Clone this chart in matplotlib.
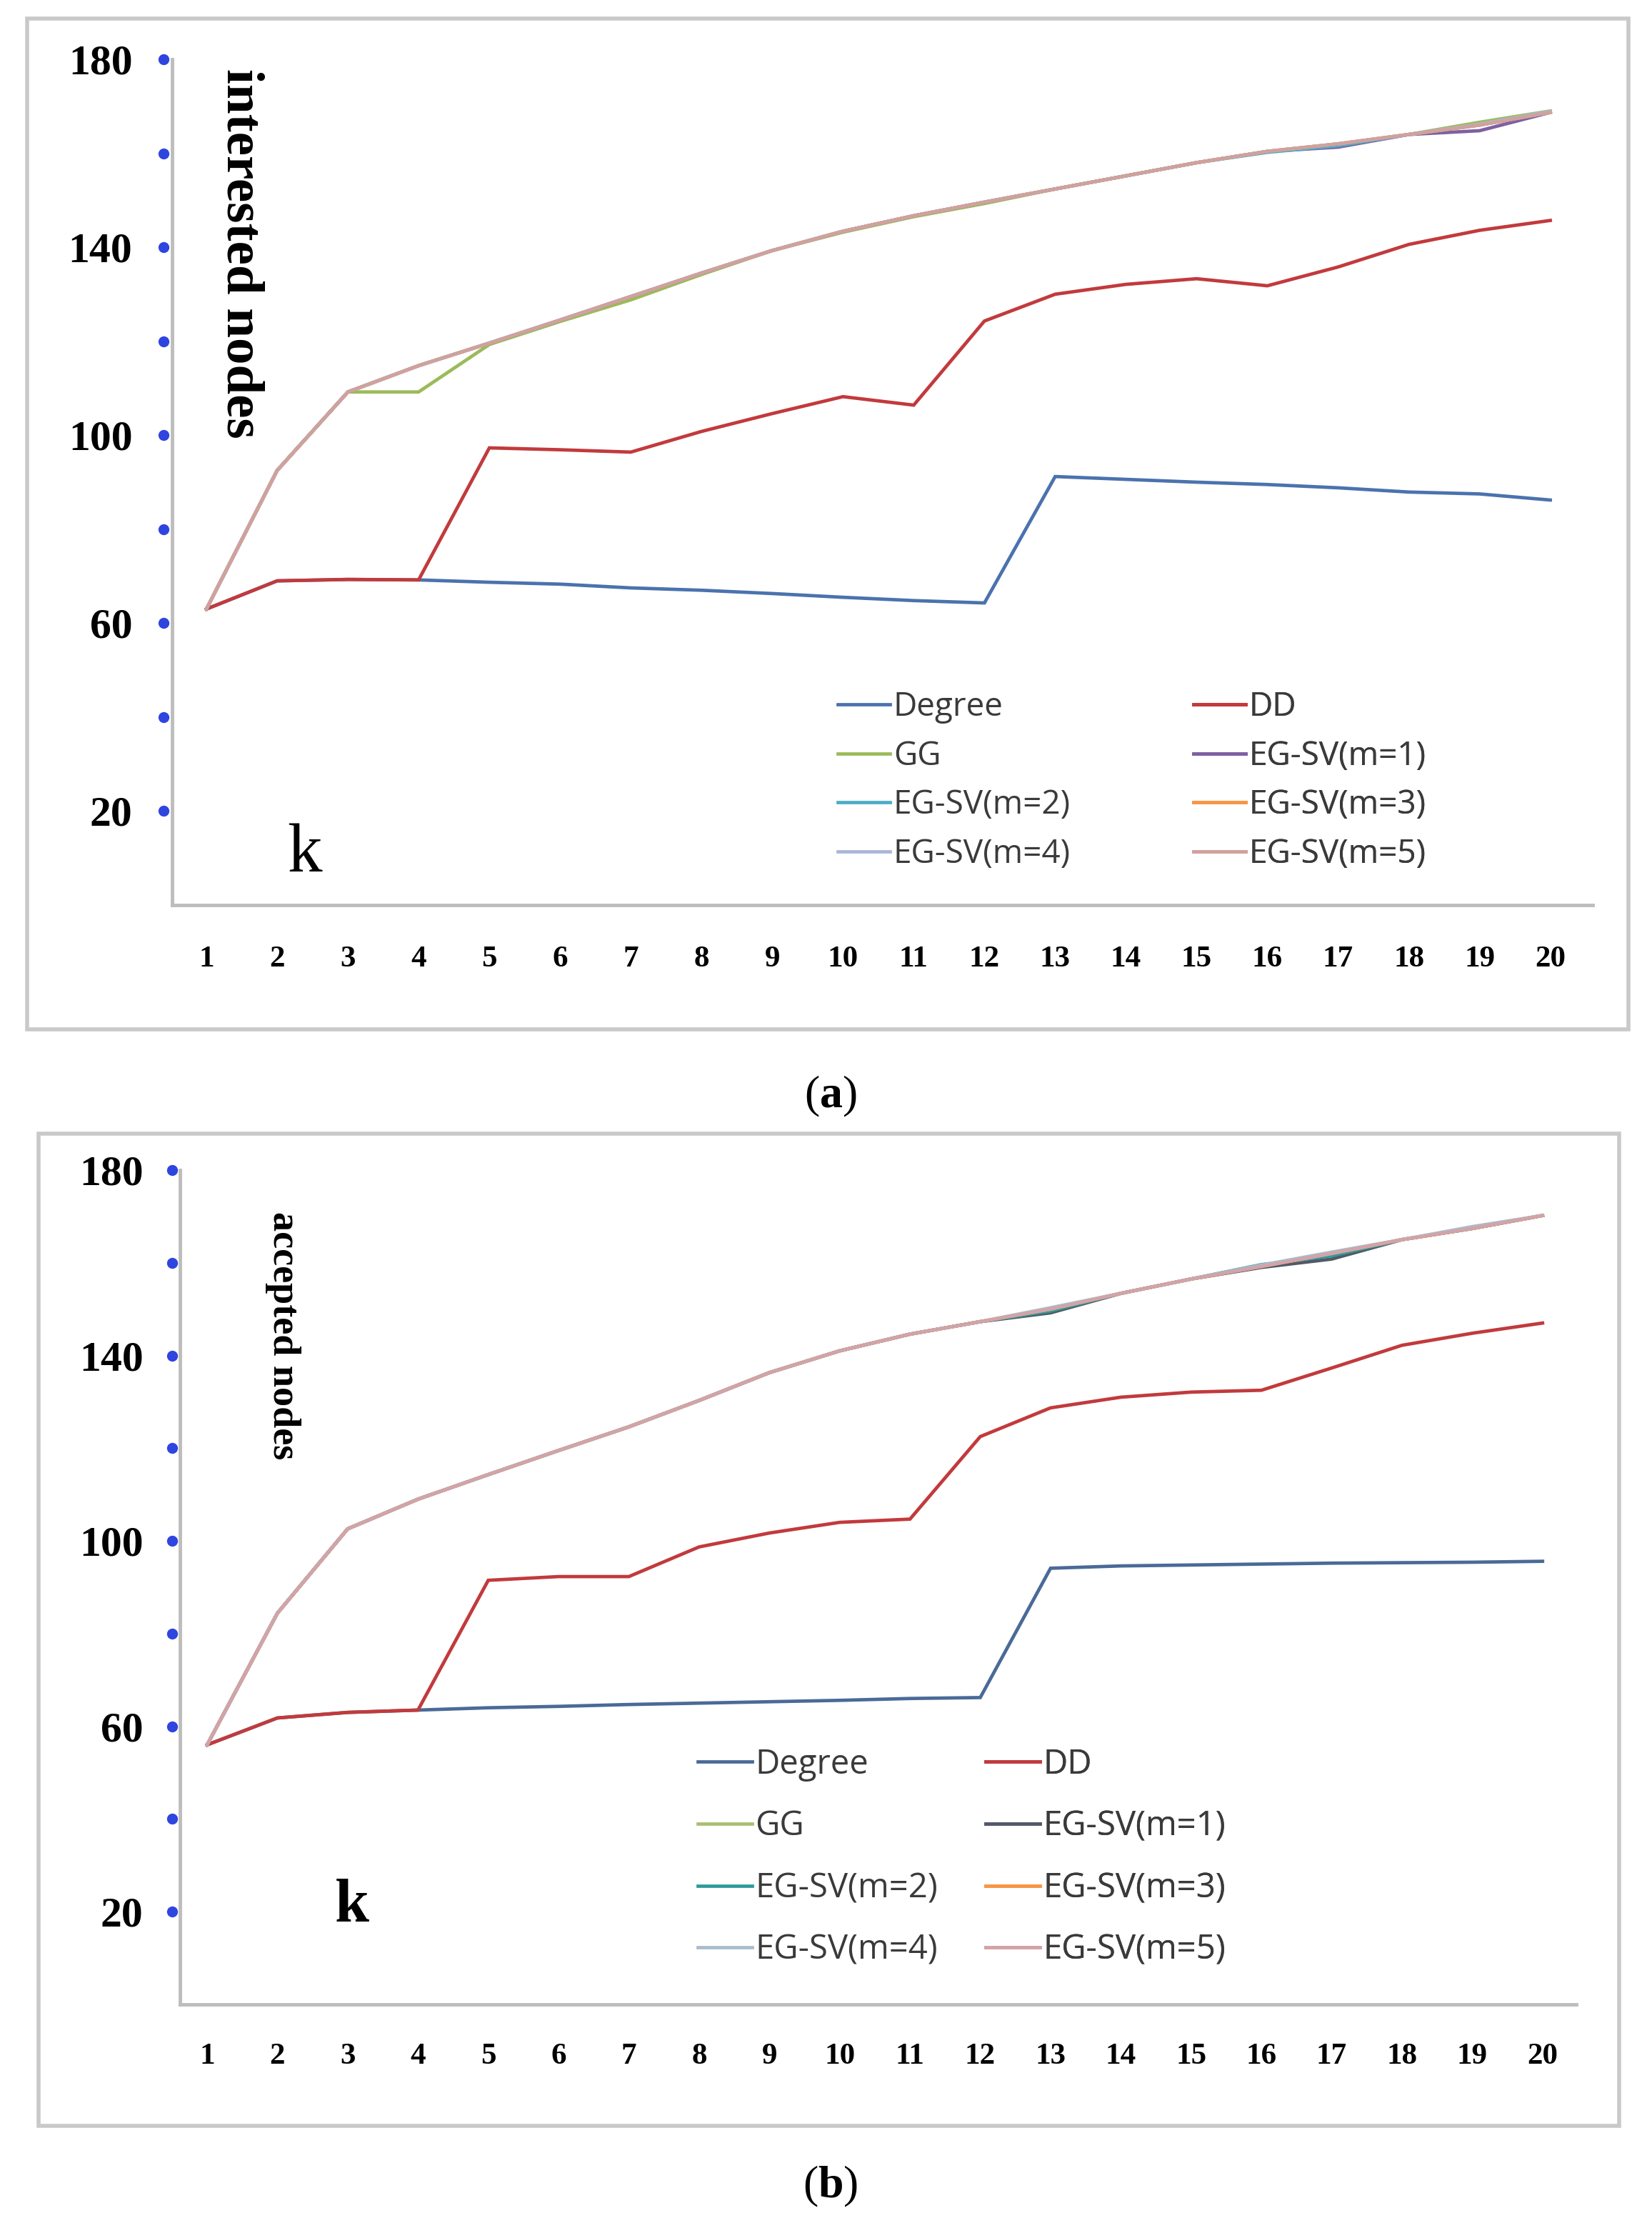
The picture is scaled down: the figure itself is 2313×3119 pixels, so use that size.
import numpy as np
import matplotlib
matplotlib.use('Agg')
import matplotlib.pyplot as plt
from matplotlib.patches import Rectangle
from matplotlib.font_manager import FontProperties
from matplotlib.transforms import blended_transform_factory

plt.rcParams['mathtext.fontset'] = 'custom'
plt.rcParams['mathtext.bf'] = 'Liberation Serif:bold'
plt.rcParams['mathtext.rm'] = 'Liberation Serif'

# ---- data ----
k = list(range(1, 21))
series_names = ['Degree', 'DD', 'GG', 'EG-SV(m=1)', 'EG-SV(m=2)',
                'EG-SV(m=3)', 'EG-SV(m=4)', 'EG-SV(m=5)']

# (a) interested nodes
degree_a = [63, 69, 69.3, 69.2, 68.7, 68.3, 67.5, 67, 66.3, 65.5,
            64.8, 64.3, 91.2, 90.6, 90, 89.5, 88.8, 87.9, 87.5, 86.2]
dd_a = [63, 69, 69.3, 69.2, 97.3, 96.9, 96.4, 100.8, 104.6, 108.2,
        106.4, 124.3, 130, 132.1, 133.3, 131.8, 135.8, 140.6, 143.6, 145.7]
gg_a = [63, 92.5, 109.2, 109.2, 119.3, 124.2, 128.8, 134.2, 139.3, 143.2,
        146.5, 149.3, 152.4, 155.2, 158, 160.4, 162, 164, 166.6, 169]
egsv1_a = [63, 92.5, 109.2, 114.8, 119.6, 124.5, 129.5, 134.5, 139.3, 143.4,
           146.7, 149.6, 152.4, 155.2, 158, 160.4, 161.3, 164, 164.8, 168.7]
egsv2_a = [63, 92.5, 109.2, 114.8, 119.6, 124.5, 129.5, 134.5, 139.3, 143.4,
           146.7, 149.6, 152.4, 155.2, 158, 160.2, 161.6, 164, 166, 168.7]
egsv3_a = [63, 92.5, 109.2, 114.8, 119.6, 124.5, 129.5, 134.5, 139.3, 143.4,
           146.7, 149.6, 152.4, 155.2, 158, 160.4, 162, 164, 166, 168.7]
egsv4_a = [63, 92.5, 109.2, 114.8, 119.6, 124.5, 129.5, 134.5, 139.3, 143.4,
           146.7, 149.6, 152.4, 155.2, 158, 160.4, 162, 164, 166.2, 168.9]
egsv5_a = [63, 92.5, 109.2, 114.8, 119.6, 124.5, 129.5, 134.5, 139.3, 143.4,
           146.7, 149.6, 152.4, 155.2, 158, 160.4, 162, 164, 166, 168.7]

# (b) accepted nodes
degree_b = [56, 61.8, 63, 63.5, 64, 64.3, 64.7, 65, 65.3, 65.6,
            66, 66.2, 94.1, 94.6, 94.8, 95, 95.2, 95.3, 95.4, 95.6]
dd_b = [56, 61.8, 63, 63.5, 91.5, 92.3, 92.3, 98.7, 101.7, 104,
        104.7, 122.5, 128.7, 131, 132.1, 132.5, 137.3, 142.2, 144.8, 147]
gg_b = [56, 84.4, 102.6, 109, 114.3, 119.5, 124.6, 130.3, 136.3, 141,
        144.6, 147.3, 150, 153.4, 156.5, 159.2, 162, 165, 167.4, 170.2]
egsv1_b = [56, 84.4, 102.6, 109, 114.3, 119.5, 124.6, 130.3, 136.3, 141,
           144.6, 147.3, 149.2, 153.4, 156.5, 159, 160.8, 165, 167.4, 170.2]
egsv2_b = [56, 84.4, 102.6, 109, 114.3, 119.5, 124.6, 130.3, 136.3, 141,
           144.6, 147.3, 149.6, 153.4, 156.5, 159.6, 161.5, 165, 167.4, 170.2]
egsv3_b = [56, 84.4, 102.6, 109, 114.3, 119.5, 124.6, 130.3, 136.3, 141,
           144.6, 147.3, 150, 153.4, 156.5, 159.2, 162, 165, 167.4, 170.2]
egsv4_b = [56, 84.4, 102.6, 109, 114.3, 119.5, 124.6, 130.3, 136.3, 141,
           144.6, 147.3, 150.3, 153.4, 156.5, 159.5, 162.3, 165, 167.8, 170.2]
egsv5_b = [56, 84.4, 102.6, 109, 114.3, 119.5, 124.6, 130.3, 136.3, 141,
           144.6, 147.3, 150, 153.4, 156.5, 159.2, 162, 165, 167.4, 170.2]

ytick_labels = [20, 60, 100, 140, 180]
ytick_dots = [20, 40, 60, 80, 100, 120, 140, 160, 180]

colors_a = ['#4A72AE', '#C23A3C', '#9BBB59', '#7E60A2', '#4BACC6',
            '#F79646', '#AAB6D8', '#D1A19D']
colors_b = ['#4A6A98', '#C23A3C', '#A8C070', '#505A68', '#2E9A9A',
            '#F79646', '#A9BCCB', '#D3A3A8']

# ---- layout helpers (pixel coords of the 2313x3119 canvas) ----
W, H = 2313, 3119
fig = plt.figure(figsize=(W / 100, H / 100), dpi=100)
fig.patch.set_facecolor('white')


def fx(px):
    return px / W


def fy(py):
    return 1 - py / H


serif_b = FontProperties(family='Liberation Serif', weight='bold')
leg_font = ['Liberation Sans Narrow', 'Open Sans', 'DejaVu Sans']


def frame(x0, y0, x1, y1):
    fig.add_artist(Rectangle((fx(x0), fy(y1)), (x1 - x0) / W, (y1 - y0) / H,
                             transform=fig.transFigure, fill=False,
                             ec='#C9C9C9', lw=4))


def panel(box, xlim, data, colors, ypad, xpad, dot_x, legend_spec):
    left, right, top, bottom = box
    ax = fig.add_axes([fx(left), fy(bottom), (right - left) / W, (bottom - top) / H])
    lines = []
    for name, vals, c in zip(series_names, data, colors):
        ln, = ax.plot(k, vals, color=c, lw=3.4, label=name, solid_joinstyle='miter')
        lines.append(ln)
    ax.set_xlim(*xlim)
    ax.set_ylim(0, 180)
    for s in ['top', 'right']:
        ax.spines[s].set_visible(False)
    for s in ['left', 'bottom']:
        ax.spines[s].set_color('#BDBDBD')
        ax.spines[s].set_linewidth(3.5)
    ax.set_xticks(k)
    ax.set_xticklabels([str(v) for v in k], fontproperties=serif_b, fontsize=31)
    ax.set_yticks(ytick_labels)
    ax.set_yticklabels([str(v) for v in ytick_labels], fontproperties=serif_b, fontsize=43)
    ax.tick_params(axis='x', length=0, pad=xpad)
    ax.tick_params(axis='y', length=0, pad=ypad)
    tr = blended_transform_factory(ax.transAxes, ax.transData)
    ax.plot([dot_x] * len(ytick_dots), ytick_dots, 'o', color='#2F45E0',
            ms=10, transform=tr, clip_on=False)

    # legend in two columns, as in the Excel chart
    fs, lsp, x1, x2, yc = legend_spec
    order1 = [0, 2, 4, 6]
    order2 = [1, 3, 5, 7]
    for order, xx in [(order1, x1), (order2, x2)]:
        leg = ax.legend([lines[i] for i in order], [series_names[i] for i in order],
                        loc='center left', bbox_to_anchor=(fx(xx), fy(yc)),
                        bbox_transform=fig.transFigure, frameon=False,
                        prop=FontProperties(family=leg_font, size=fs),
                        labelspacing=lsp, handlelength=1.6, handletextpad=0.1,
                        borderpad=0, borderaxespad=0, labelcolor='#3A3A3A')
        ax.add_artist(leg)
    return ax


# ---- panel (a) ----
frame(38, 26, 2280, 1441)
panel((241, 2230, 83, 1267), (0.515, 20.6),
      [degree_a, dd_a, gg_a, egsv1_a, egsv2_a, egsv3_a, egsv4_a, egsv5_a],
      colors_a, ypad=40, xpad=41, dot_x=-0.006,
      legend_spec=(33, 0.49, 1173, 1671, 1093))
fig.text(fx(336), fy(96), 'interested nodes', rotation=-90, ha='center', va='top',
         fontproperties=serif_b, fontsize=54)
fig.text(fx(426), fy(1220), 'k', ha='center', va='baseline',
         family='Liberation Serif', fontsize=70)
fig.text(fx(1163), fy(1535), r'($\mathbf{a}$)', ha='center', va='center',
         family='Liberation Serif', fontsize=46)

# ---- panel (b) ----
frame(54, 1587, 2267, 2976)
panel((252, 2207, 1638, 2806), (0.614, 20.48),
      [degree_b, dd_b, gg_b, egsv1_b, egsv2_b, egsv3_b, egsv4_b, egsv5_b],
      colors_b, ypad=37, xpad=39, dot_x=-0.0056,
      legend_spec=(34, 0.83, 977, 1380, 2600))
fig.text(fx(396), fy(1696), 'accepted nodes', rotation=-90, ha='center', va='top',
         fontproperties=serif_b, fontsize=39)
fig.text(fx(493), fy(2690), 'k', ha='center', va='baseline',
         fontproperties=serif_b, fontsize=62)
fig.text(fx(1163), fy(3061), r'($\mathbf{b}$)', ha='center', va='center',
         family='Liberation Serif', fontsize=46)

fig.savefig('out.png', dpi=100)
